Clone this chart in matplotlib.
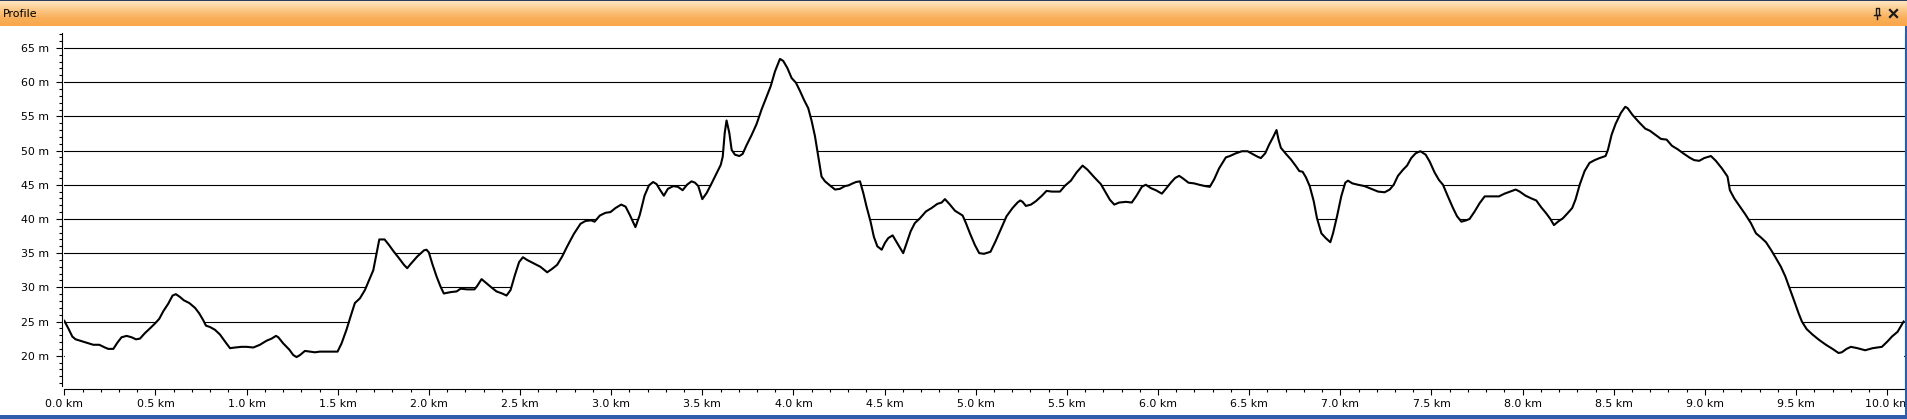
import numpy as np
import matplotlib
matplotlib.use("Agg")
import matplotlib.pyplot as plt
from matplotlib.colors import LinearSegmentedColormap
from matplotlib.ticker import MultipleLocator, FuncFormatter

# elevation profile (km, m)
dist_km = [
    0.000, 0.022, 0.044, 0.062, 0.086, 0.122, 0.159, 0.192, 0.223, 0.241, 0.269, 0.291,
    0.314, 0.342, 0.369, 0.393, 0.415, 0.442, 0.470, 0.497, 0.521, 0.543, 0.570, 0.594,
    0.612, 0.634, 0.656, 0.686, 0.717, 0.740, 0.762, 0.777, 0.799, 0.826, 0.854, 0.881,
    0.909, 0.936, 0.973, 1.000, 1.037, 1.073, 1.110, 1.137, 1.161, 1.174, 1.201, 1.234,
    1.256, 1.274, 1.293, 1.320, 1.347, 1.375, 1.402, 1.439, 1.475, 1.499, 1.521, 1.548,
    1.570, 1.594, 1.622, 1.649, 1.673, 1.695, 1.712, 1.728, 1.757, 1.781, 1.808, 1.835,
    1.863, 1.881, 1.903, 1.936, 1.973, 1.987, 2.000, 2.018, 2.042, 2.064, 2.082, 2.119,
    2.152, 2.174, 2.210, 2.250, 2.265, 2.289, 2.311, 2.338, 2.371, 2.402, 2.426, 2.448,
    2.472, 2.495, 2.516, 2.539, 2.576, 2.612, 2.649, 2.676, 2.704, 2.731, 2.759, 2.795,
    2.832, 2.859, 2.890, 2.909, 2.938, 2.969, 2.996, 3.024, 3.055, 3.079, 3.102, 3.133,
    3.157, 3.183, 3.207, 3.230, 3.249, 3.267, 3.289, 3.311, 3.340, 3.366, 3.392, 3.416,
    3.441, 3.460, 3.478, 3.500, 3.524, 3.551, 3.579, 3.601, 3.612, 3.623, 3.633, 3.648,
    3.661, 3.679, 3.703, 3.721, 3.743, 3.771, 3.798, 3.825, 3.853, 3.875, 3.899, 3.926,
    3.944, 3.966, 3.990, 4.014, 4.036, 4.058, 4.081, 4.100, 4.118, 4.136, 4.154, 4.173,
    4.200, 4.228, 4.255, 4.282, 4.301, 4.325, 4.343, 4.365, 4.383, 4.401, 4.423, 4.441,
    4.460, 4.484, 4.502, 4.520, 4.544, 4.566, 4.584, 4.602, 4.621, 4.643, 4.666, 4.694,
    4.727, 4.758, 4.789, 4.813, 4.831, 4.855, 4.886, 4.928, 4.946, 4.968, 4.995, 5.019,
    5.045, 5.081, 5.108, 5.138, 5.169, 5.202, 5.229, 5.244, 5.257, 5.275, 5.303, 5.330,
    5.363, 5.388, 5.418, 5.462, 5.491, 5.522, 5.553, 5.586, 5.613, 5.650, 5.686, 5.714,
    5.736, 5.760, 5.787, 5.824, 5.856, 5.882, 5.911, 5.933, 5.961, 5.988, 6.021, 6.043,
    6.070, 6.094, 6.116, 6.138, 6.167, 6.198, 6.226, 6.259, 6.284, 6.308, 6.335, 6.372,
    6.394, 6.427, 6.460, 6.491, 6.518, 6.546, 6.564, 6.588, 6.610, 6.632, 6.650, 6.661,
    6.674, 6.702, 6.729, 6.757, 6.775, 6.793, 6.811, 6.832, 6.854, 6.872, 6.896, 6.920,
    6.945, 6.960, 6.982, 7.005, 7.027, 7.042, 7.066, 7.097, 7.133, 7.170, 7.207, 7.243,
    7.271, 7.293, 7.316, 7.344, 7.366, 7.389, 7.413, 7.439, 7.468, 7.490, 7.517, 7.541,
    7.563, 7.590, 7.618, 7.640, 7.664, 7.691, 7.709, 7.737, 7.764, 7.792, 7.828, 7.870,
    7.901, 7.932, 7.962, 7.984, 8.016, 8.048, 8.075, 8.102, 8.130, 8.152, 8.172, 8.194,
    8.221, 8.249, 8.272, 8.291, 8.313, 8.340, 8.367, 8.395, 8.422, 8.455, 8.468, 8.488,
    8.510, 8.539, 8.563, 8.576, 8.603, 8.640, 8.673, 8.698, 8.728, 8.759, 8.790, 8.819,
    8.850, 8.881, 8.914, 8.941, 8.969, 8.996, 9.033, 9.060, 9.093, 9.124, 9.137, 9.161,
    9.192, 9.221, 9.252, 9.280, 9.307, 9.335, 9.362, 9.389, 9.417, 9.441, 9.463, 9.490,
    9.514, 9.532, 9.558, 9.590, 9.627, 9.664, 9.700, 9.733, 9.751, 9.777, 9.801, 9.837,
    9.879, 9.920, 9.971, 10.002, 10.026, 10.057, 10.090,
]
elev_m = [
    25.1, 24.0, 22.8, 22.4, 22.2, 21.9, 21.6, 21.6, 21.2, 21.0, 21.0, 21.9,
    22.7, 22.9, 22.7, 22.4, 22.5, 23.3, 24.0, 24.7, 25.4, 26.5, 27.6, 28.8,
    29.0, 28.6, 28.1, 27.7, 27.0, 26.2, 25.2, 24.4, 24.2, 23.8, 23.1, 22.1,
    21.1, 21.2, 21.3, 21.3, 21.2, 21.6, 22.2, 22.5, 22.9, 22.7, 21.8, 20.9,
    20.1, 19.8, 20.1, 20.7, 20.6, 20.5, 20.6, 20.6, 20.6, 20.6, 21.8, 23.8,
    25.7, 27.7, 28.4, 29.6, 31.1, 32.5, 34.8, 37.0, 37.0, 36.2, 35.2, 34.3,
    33.3, 32.8, 33.5, 34.5, 35.4, 35.5, 35.1, 33.5, 31.6, 30.1, 29.1, 29.3,
    29.4, 29.8, 29.7, 29.7, 30.2, 31.2, 30.7, 30.1, 29.4, 29.1, 28.8, 29.6,
    31.8, 33.7, 34.4, 34.0, 33.5, 33.0, 32.2, 32.7, 33.3, 34.5, 36.0, 37.8,
    39.3, 39.7, 39.8, 39.6, 40.5, 40.9, 41.0, 41.6, 42.1, 41.8, 40.6, 38.8,
    40.6, 43.4, 44.9, 45.4, 45.1, 44.3, 43.4, 44.4, 44.8, 44.7, 44.2, 45.0,
    45.5, 45.3, 44.8, 42.9, 43.8, 45.2, 46.7, 47.9, 49.1, 52.6, 54.4, 52.6,
    50.1, 49.4, 49.2, 49.5, 50.8, 52.3, 53.9, 56.0, 57.9, 59.4, 61.6, 63.4,
    63.1, 62.1, 60.6, 59.9, 58.7, 57.4, 56.2, 54.3, 52.1, 49.1, 46.2, 45.5,
    44.9, 44.3, 44.4, 44.8, 44.9, 45.2, 45.4, 45.5, 43.8, 41.8, 39.6, 37.4,
    36.0, 35.5, 36.5, 37.2, 37.6, 36.6, 35.8, 35.0, 36.5, 38.2, 39.4, 40.1,
    41.1, 41.6, 42.2, 42.4, 42.9, 42.2, 41.2, 40.5, 39.4, 37.9, 36.2, 35.0,
    34.9, 35.2, 36.7, 38.5, 40.4, 41.6, 42.4, 42.7, 42.5, 41.9, 42.1, 42.6,
    43.4, 44.1, 44.0, 44.0, 44.9, 45.6, 46.8, 47.8, 47.2, 46.1, 45.1, 43.8,
    42.8, 42.1, 42.4, 42.5, 42.4, 43.4, 44.7, 45.0, 44.5, 44.2, 43.7, 44.4,
    45.3, 46.0, 46.3, 45.9, 45.3, 45.2, 45.0, 44.8, 44.7, 45.8, 47.4, 49.0,
    49.2, 49.6, 49.9, 49.9, 49.5, 49.1, 48.9, 49.6, 50.9, 52.0, 53.0, 51.6,
    50.4, 49.5, 48.7, 47.7, 47.0, 46.9, 46.1, 44.8, 42.6, 40.1, 37.9, 37.2,
    36.6, 37.9, 40.4, 43.3, 45.3, 45.6, 45.2, 45.0, 44.8, 44.4, 44.0, 43.9,
    44.3, 45.0, 46.3, 47.2, 47.8, 48.9, 49.6, 49.9, 49.4, 48.4, 46.8, 45.7,
    45.0, 43.3, 41.6, 40.4, 39.6, 39.8, 40.0, 41.1, 42.3, 43.3, 43.3, 43.3,
    43.7, 44.0, 44.3, 44.0, 43.4, 43.0, 42.7, 41.7, 40.8, 40.0, 39.1, 39.6,
    40.1, 40.9, 41.6, 42.9, 45.0, 47.0, 48.2, 48.6, 48.9, 49.2, 50.1, 52.3,
    53.9, 55.5, 56.4, 56.2, 55.2, 54.1, 53.2, 52.9, 52.3, 51.7, 51.6, 50.7,
    50.2, 49.6, 49.0, 48.6, 48.5, 48.9, 49.2, 48.5, 47.4, 46.2, 44.2, 43.0,
    41.8, 40.7, 39.4, 37.9, 37.3, 36.6, 35.5, 34.3, 33.0, 31.6, 30.0, 28.0,
    26.2, 25.0, 23.9, 23.1, 22.3, 21.6, 21.0, 20.4, 20.5, 21.0, 21.3, 21.1,
    20.8, 21.1, 21.3, 22.1, 22.8, 23.5, 25.0,
]
y_ticks = [20, 25, 30, 35, 40, 45, 50, 55, 60, 65]

W, H = 1907, 419
plt.rcParams['font.family'] = 'DejaVu Sans'
fig = plt.figure(figsize=(W / 100, H / 100), dpi=100)
fig.patch.set_facecolor('white')

# main plot area (pixel box measured from reference)
left, right, top, bottom = 64.3, 1904.7, 33.0, 389.3
ax = fig.add_axes([left / W, 1 - bottom / H, (right - left) / W, (bottom - top) / H])
ax.set_xlim(0, 10.096)
ax.set_ylim(15.09, 67.19)

ax.set_axisbelow(True)
for v in y_ticks:
    ax.axhline(v, color='black', lw=0.8, zorder=0.5)
ax.fill_between(dist_km, elev_m, 15.09, color='white', lw=0, zorder=1)
ax.plot(dist_km, elev_m, color='black', lw=1.5, zorder=3, solid_joinstyle='round')

for s in ['top']:
    ax.spines[s].set_visible(False)
ax.spines['right'].set_color('#202020')
ax.spines['left'].set_position(('outward', 1.9))
ax.spines['left'].set_bounds(15.5, 67.19)
for s in ['left', 'bottom', 'right']:
    ax.spines[s].set_linewidth(0.8)

ax.set_yticks(y_ticks)
ax.yaxis.set_minor_locator(MultipleLocator(1))
ax.yaxis.set_major_formatter(FuncFormatter(lambda v, p: f"{v:.0f} m"))
ax.xaxis.set_major_locator(MultipleLocator(0.5))
ax.xaxis.set_minor_locator(MultipleLocator(0.1))
ax.xaxis.set_major_formatter(FuncFormatter(lambda v, p: f"{v:.1f} km"))
ax.tick_params(which='major', length=4.6, width=0.8, labelsize=7.9, colors='black')
ax.tick_params(which='minor', length=2.3, width=0.8)
ax.tick_params(axis='x', which='major', pad=2.4)
ax.tick_params(axis='y', which='major', pad=4.6)
ax.tick_params(axis='y', which='both', right=False)

# window chrome: title bar, borders
ov = fig.add_axes([0, 0, 1, 1], zorder=10)
ov.set_xlim(0, W)
ov.set_ylim(H, 0)
ov.axis('off')
ov.patch.set_alpha(0)

bar = LinearSegmentedColormap.from_list('bar', ['#fde6c2', '#fcca8a', '#f9b05c', '#f8a648'])
grad = np.linspace(0, 1, 64).reshape(-1, 1)
ov.imshow(grad, cmap=bar, extent=(0, W, 26, 1), aspect='auto', interpolation='bilinear')
ov.fill_between([0, W], 0, 1.5, color='#2c3c5c', lw=0)
ov.text(3, 14, "Profile", fontsize=7.9, va='center', ha='left', color='black')

# pin icon and close cross
ov.plot([1874, 1880], [15, 15], color='#1a1a1a', lw=1.0)
ov.plot([1877, 1877], [15, 19], color='#1a1a1a', lw=1.0)
ov.plot([1875.5, 1875.5, 1879, 1879], [15, 8, 8, 15], color='#1a1a1a', lw=1.0)
ov.plot([1890, 1897], [10, 17], color='#1a1a1a', lw=1.6)
ov.plot([1890, 1897], [17, 10], color='#1a1a1a', lw=1.6)

ov.fill_between([0, W], 415, 419, color='#2e5eab', lw=0)
ov.fill_between([0, W], 414.5, 415.3, color='#7f9fd3', lw=0)
ov.fill_between([1905.3, W], 26, 419, color='#2e5eab', lw=0)

fig.savefig('out.png', dpi=100)
